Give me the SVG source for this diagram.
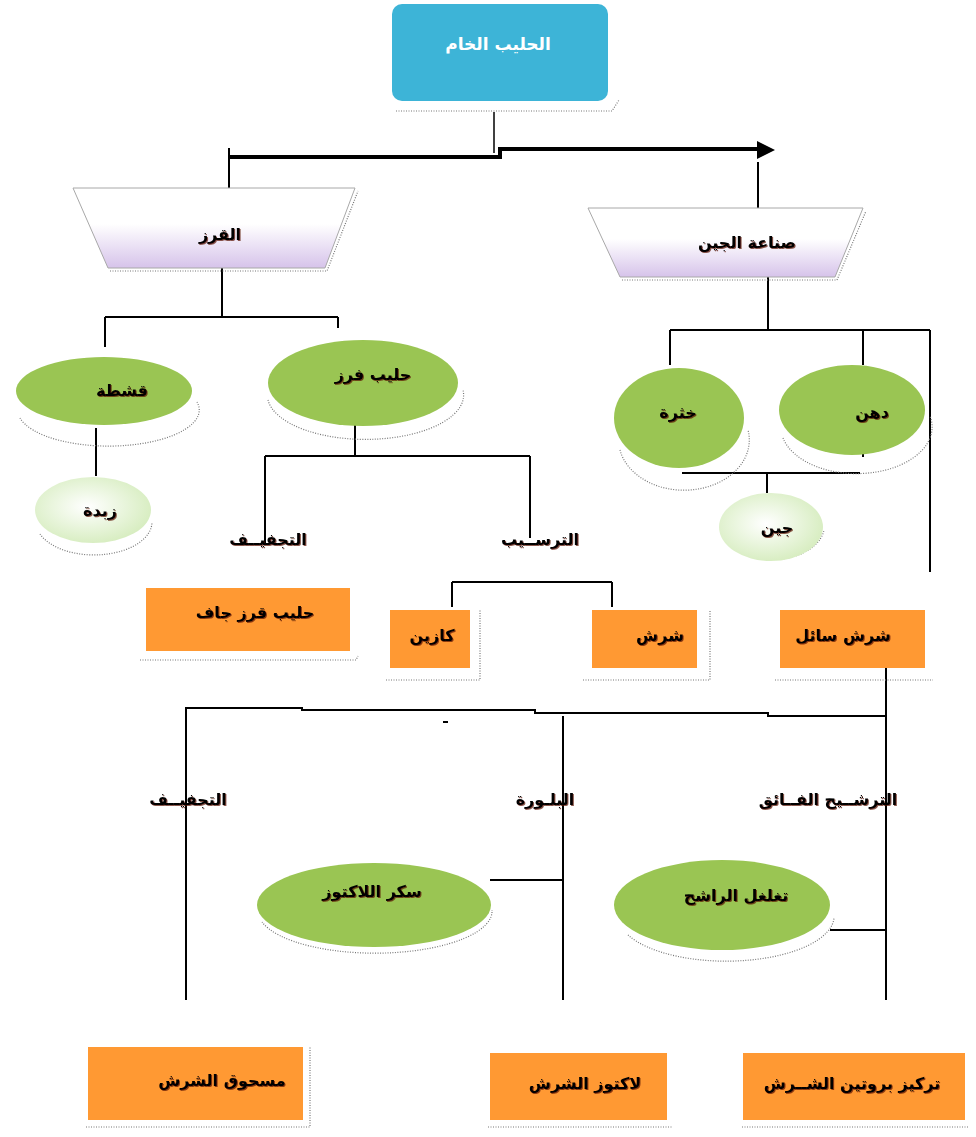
<svg xmlns="http://www.w3.org/2000/svg" width="976" height="1137" viewBox="0 0 976 1137">
<style>
  text { font-family: "DejaVu Sans", "Noto Sans", sans-serif; font-weight: bold; font-size: 16px; text-anchor: middle; fill: #000; }
  .white { fill: #ffffff; font-size: 17px; }
  .lbl { filter: url(#ts); }
  .orange { fill: #FF9933; }
  .green { fill: #9AC553; }
  .pale { fill: url(#pale); }
  .trap { fill: url(#lav); stroke: #a8a8a8; stroke-width: 1; }
  .shadow { fill: none; stroke: #777; stroke-width: 1.2; stroke-dasharray: 1 1.5; }
  .conn path { fill: none; stroke: #000; stroke-width: 2; }
  .conn .thick { stroke-width: 4; }
</style>
<defs>
  <linearGradient id="lav" x1="0" y1="0" x2="0" y2="1">
    <stop offset="0" stop-color="#ffffff"/>
    <stop offset="0.45" stop-color="#ffffff"/>
    <stop offset="1" stop-color="#D6C3EA"/>
  </linearGradient>
  <radialGradient id="pale" cx="0.45" cy="0.45" r="0.6">
    <stop offset="0" stop-color="#ffffff"/>
    <stop offset="1" stop-color="#D5ECBD"/>
  </radialGradient>
  <filter id="ts" x="-10%" y="-30%" width="120%" height="160%">
    <feDropShadow dx="1" dy="1" stdDeviation="0.4" flood-color="#5a1500" flood-opacity="0.7"/>
  </filter>
</defs>
<rect width="976" height="1137" fill="#ffffff"/>

<g id="connectors" class="conn">
  <path d="M494,112 V153" style="stroke-width:1.5"/>
  <path class="thick" d="M229,157 H500 V149 H760"/>
  <path d="M229,148 V188"/>
  <path d="M758,162 V208"/>
  <path d="M222,268 V317 M105,317 H338 M105,317 V347 M338,317 V328"/>
  <path d="M96,428 V476"/>
  <path d="M355,418 V456 M265,456 H530 M265,456 V545 M530,456 V538"/>
  <path d="M768,277 V330 M670,330 H930 M670,330 V365 M863,330 V365 M930,330 V572"/>
  <path d="M670,443 V457 M863,443 V457 M682,473 H860 M767,473 V493"/>
  <path d="M452,582 H612 M452,582 V607 M612,582 V607"/>
  <path d="M886,668 V1000"/>
  <path d="M186,1000 V708 H302 V710 H535 V713 H768 V716 H886"/>
  <path d="M563,716 V1000"/>
  <path d="M490,880 H563"/>
  <path d="M830,930 H886"/>
  <path d="M443,722 H448"/>
  <polygon points="757,141 775,150 757,159" fill="#000"/>
</g>

<g id="n-raw">
  <path class="shadow" d="M396,111 H612 L619,100"/>
  <rect x="392" y="4" width="216" height="97" rx="10" fill="#3DB4D7"/>
  <text class="white" x="498" y="50">الحليب  الخام</text>
</g>

<g id="n-separation">
  <path class="shadow" d="M110,271 H327 L358,191"/>
  <polygon class="trap" points="73,188 355,188 325,268 108,268"/>
  <text class="lbl" x="220" y="240">القرز</text>
</g>

<g id="n-cheesemaking">
  <path class="shadow" d="M622,280 H837 L866,211"/>
  <polygon class="trap" points="588,208 863,208 835,277 620,277"/>
  <text class="lbl" x="747" y="248">صناعة  الجين</text>
</g>

<g id="n-cream">
  <path class="shadow" d="M20,418 A88,35 0 0 0 197,402"/>
  <ellipse class="green" cx="104" cy="391" rx="88" ry="34"/>
  <text class="lbl" x="122" y="396">قشطة</text>
</g>

<g id="n-butter">
  <path class="shadow" d="M40,534 A58,33 0 0 0 152,522"/>
  <ellipse class="pale" cx="93" cy="510" rx="58" ry="33"/>
  <text class="lbl" x="100" y="516">زبدة</text>
</g>

<g id="n-skim">
  <path class="shadow" d="M268,400 A95,43 0 0 0 463,390"/>
  <ellipse class="green" cx="363" cy="383" rx="95" ry="43"/>
  <text class="lbl" x="373" y="380">حليب فرز</text>
</g>

<g id="n-curd">
  <path class="shadow" d="M620,450 A65,50 0 0 0 748,430"/>
  <ellipse class="green" cx="679" cy="418" rx="65" ry="50"/>
  <text class="lbl" x="678" y="418">خثرة</text>
</g>

<g id="n-fat">
  <path class="shadow" d="M783,438 A73,45 0 0 0 930,416"/>
  <ellipse class="green" cx="852" cy="410" rx="73" ry="45"/>
  <text class="lbl" x="872" y="418">دهن</text>
</g>

<g id="n-cheese">
  <path class="shadow" d="M740,552 A52,34 0 0 0 824,530"/>
  <ellipse class="pale" cx="771" cy="527" rx="52" ry="34"/>
  <text class="lbl" x="777" y="533">جين</text>
</g>

<g id="n-drymilk">
  <path class="shadow" d="M140,660 H356 L358,656"/>
  <rect class="orange" x="146" y="588" width="204" height="63"/>
  <text class="lbl" x="255" y="618">حليب قرز جاف</text>
</g>

<g id="n-casein">
  <path class="shadow" d="M386,680 H480 V610"/>
  <rect class="orange" x="390" y="610" width="80" height="58"/>
  <text class="lbl" x="432" y="641">كازين</text>
</g>

<g id="n-whey">
  <path class="shadow" d="M583,680 H710 V610"/>
  <rect class="orange" x="592" y="610" width="105" height="58"/>
  <text class="lbl" x="660" y="641">شرش</text>
</g>

<g id="n-liquidwhey">
  <path class="shadow" d="M775,680 H933"/>
  <rect class="orange" x="780" y="610" width="145" height="58"/>
  <text class="lbl" x="843" y="641">شرش سائل</text>
</g>

<g id="n-lactosesugar">
  <path class="shadow" d="M262,922 A117,42 0 0 0 492,910"/>
  <ellipse class="green" cx="374" cy="905" rx="117" ry="42"/>
  <text class="lbl" x="372" y="897">سكر اللاكتوز</text>
</g>

<g id="n-permeate">
  <path class="shadow" d="M628,935 A108,45 0 0 0 834,918"/>
  <ellipse class="green" cx="722" cy="905" rx="108" ry="45"/>
  <text class="lbl" x="736" y="901">تغلغل الراشح</text>
</g>

<g id="n-wheypowder">
  <path class="shadow" d="M86,1127 H310 V1047"/>
  <rect class="orange" x="88" y="1047" width="215" height="73"/>
  <text class="lbl" x="222" y="1086">مسحوق الشرش</text>
</g>

<g id="n-wheylactose">
  <path class="shadow" d="M488,1127 H672"/>
  <rect class="orange" x="490" y="1053" width="177" height="67"/>
  <text class="lbl" x="585" y="1089">لاكتوز الشرش</text>
</g>

<g id="n-wheyprotein">
  <path class="shadow" d="M742,1127 H968"/>
  <rect class="orange" x="743" y="1053" width="222" height="67"/>
  <text class="lbl" x="852" y="1089">تركيز بروتين الشــرش</text>
</g>

<g id="labels">
  <text class="lbl" x="268" y="545">التجفيــف</text>
  <text class="lbl" x="540" y="545">الترســيب</text>
  <text class="lbl" x="188" y="805">التجفيــف</text>
  <text class="lbl" x="545" y="805">البلـورة</text>
  <text class="lbl" x="828" y="805">الترشــيح الفــائق</text>
</g>
</svg>
